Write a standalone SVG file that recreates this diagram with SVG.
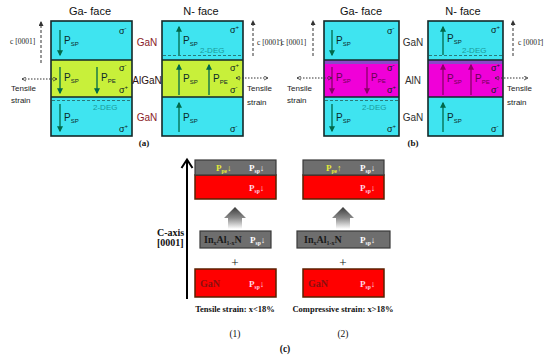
<svg xmlns="http://www.w3.org/2000/svg" width="550" height="361" viewBox="0 0 550 361">
<defs>
<style>
.t{font-family:"Liberation Sans",Arial,sans-serif}
.s{font-family:"Liberation Serif","Times New Roman",serif}
.cy{fill:#3fe4f0}
.yg{fill:#c8f03a}
.mg{fill:#f000d8}
.pb{fill:#8a48c8}
.bd{fill:none;stroke:#142828;stroke-width:1.6}
.dv{stroke:#142828;stroke-width:1.6}
.ttl{font-size:11px;fill:#111}
.pl{font-size:10px;fill:#0c2a2a}
.plm{font-size:10px;fill:#6a0052}
.sub{font-size:6px}
.sg{font-size:9px;fill:#0c2020}
.deg{font-size:8px;fill:#1a9a9a}
.dg{stroke:#2a7a7a;stroke-width:1;stroke-dasharray:3 2}
.ag{stroke:#00694a;stroke-width:1.3;marker-end:url(#mg)}
.am{stroke:#8a0068;stroke-width:1.3;marker-end:url(#mm)}
.ca{stroke:#333;stroke-width:1;stroke-dasharray:3 2;marker-end:url(#mc)}
.ts{stroke:#333;stroke-width:1;stroke-dasharray:1.5 1.5;marker-start:url(#mo);marker-end:url(#mo)}
.cl{font-size:7.5px;fill:#222}
.tl{font-size:8px;fill:#222}
.lab{font-size:10px}
.gray{fill:#6e6e6e;stroke:#3a3a3a;stroke-width:1.2}
.red{fill:#ff0000;stroke:#5a2000;stroke-width:1.5}
.cb{font-weight:bold}
.yel{fill:#e4ec3a}
.wh{fill:#ffffff}
.pk{fill:#ffd4e4}
.ps{font-size:9px;font-weight:bold}
.ps2{font-size:5.5px}
</style>
<marker id="mg" viewBox="0 0 10 10" refX="8" refY="5" markerWidth="6" markerHeight="6" markerUnits="userSpaceOnUse" orient="auto"><path d="M0,0 L10,5 L0,10 z" fill="#00694a"/></marker>
<marker id="mm" viewBox="0 0 10 10" refX="8" refY="5" markerWidth="6" markerHeight="6" markerUnits="userSpaceOnUse" orient="auto"><path d="M0,0 L10,5 L0,10 z" fill="#8a0068"/></marker>
<marker id="mc" viewBox="0 0 10 10" refX="8" refY="5" markerWidth="5" markerHeight="5" markerUnits="userSpaceOnUse" orient="auto"><path d="M0,0 L10,5 L0,10 z" fill="#333"/></marker>
<marker id="mo" viewBox="0 0 10 10" refX="9" refY="5" markerWidth="5" markerHeight="5" markerUnits="userSpaceOnUse" orient="auto-start-reverse"><path d="M1,1 L9,5 L1,9" fill="none" stroke="#333" stroke-width="1.6"/></marker>
<linearGradient id="gr" x1="0" y1="0" x2="0" y2="1"><stop offset="0" stop-color="#3a3a3a"/><stop offset="0.5" stop-color="#8a8a8a"/><stop offset="1" stop-color="#ffffff"/></linearGradient>
</defs>
<rect width="550" height="361" fill="#ffffff"/>

<!-- Panel (a) Ga-face -->
<g id="a-ga-face">
<text x="90" y="15" text-anchor="middle" class="t ttl">Ga- face</text>
<rect x="51" y="21" width="81" height="39" class="cy"/>
<rect x="51" y="60" width="81" height="37" class="yg"/>
<rect x="51" y="97" width="81" height="39" class="cy"/>
<line x1="51" y1="60" x2="132" y2="60" class="dv"/>
<line x1="51" y1="97" x2="132" y2="97" class="dv"/>
<line x1="52" y1="100.5" x2="131" y2="100.5" class="dg"/>
<rect x="51" y="21" width="81" height="115" class="bd"/>
<line x1="60" y1="30" x2="60" y2="55" class="ag"/>
<text x="64" y="44" class="t pl">P<tspan class="sub" dy="2">SP</tspan></text>
<text x="119" y="34" class="t sg">σ<tspan class="sub" dy="-4">-</tspan></text>
<line x1="60" y1="67" x2="60" y2="93" class="ag"/>
<text x="64" y="81" class="t pl">P<tspan class="sub" dy="2">SP</tspan></text>
<line x1="97" y1="67" x2="97" y2="93" class="ag"/>
<text x="101" y="81" class="t pl">P<tspan class="sub" dy="2">PE</tspan></text>
<text x="119" y="71" class="t sg">σ<tspan class="sub" dy="-4">-</tspan></text>
<text x="119" y="93" class="t sg">σ<tspan class="sub" dy="-4">+</tspan></text>
<text x="93" y="110" class="t deg">2-DEG</text>
<line x1="60" y1="104" x2="60" y2="131" class="ag"/>
<text x="64" y="121" class="t pl">P<tspan class="sub" dy="2">SP</tspan></text>
<text x="119" y="132" class="t sg">σ<tspan class="sub" dy="-4">+</tspan></text>
</g>

<!-- Panel (a) labels -->
<g id="a-labels">
<text x="147" y="46" text-anchor="middle" class="t lab" fill="#8a1c28">GaN</text>
<text x="147" y="84" text-anchor="middle" class="t lab" fill="#2a1010">AlGaN</text>
<text x="147" y="121" text-anchor="middle" class="t lab" fill="#8a1c28">GaN</text>
<text x="144" y="146" text-anchor="middle" class="s cb" font-size="9" fill="#111">(a)</text>
</g>

<!-- Panel (a) N-face -->
<g id="a-n-face">
<text x="201" y="15" text-anchor="middle" class="t ttl">N- face</text>
<rect x="162" y="21" width="81" height="39" class="cy"/>
<rect x="162" y="60" width="81" height="37" class="yg"/>
<rect x="162" y="97" width="81" height="39" class="cy"/>
<line x1="162" y1="60" x2="243" y2="60" class="dv"/>
<line x1="162" y1="97" x2="243" y2="97" class="dv"/>
<line x1="163" y1="55.5" x2="242" y2="55.5" class="dg"/>
<rect x="162" y="21" width="81" height="115" class="bd"/>
<text x="230" y="33" class="t sg">σ<tspan class="sub" dy="-4">+</tspan></text>
<line x1="179" y1="55" x2="179" y2="27" class="ag"/>
<text x="183" y="44" class="t pl">P<tspan class="sub" dy="2">SP</tspan></text>
<text x="200" y="53" class="t deg">2-DEG</text>
<line x1="179" y1="95" x2="179" y2="65" class="ag"/>
<text x="183" y="82" class="t pl">P<tspan class="sub" dy="2">SP</tspan></text>
<line x1="209" y1="95" x2="209" y2="65" class="ag"/>
<text x="213" y="82" class="t pl">P<tspan class="sub" dy="2">PE</tspan></text>
<text x="230" y="71" class="t sg">σ<tspan class="sub" dy="-4">+</tspan></text>
<text x="230" y="93" class="t sg">σ<tspan class="sub" dy="-4">-</tspan></text>
<line x1="179" y1="132" x2="179" y2="103" class="ag"/>
<text x="183" y="121" class="t pl">P<tspan class="sub" dy="2">SP</tspan></text>
<text x="230" y="132" class="t sg">σ<tspan class="sub" dy="-4">-</tspan></text>
</g>

<!-- Panel (b) Ga-face -->
<g id="b-ga-face">
<text x="361" y="15" text-anchor="middle" class="t ttl">Ga- face</text>
<rect x="324" y="21" width="75" height="39" class="cy"/>
<rect x="324" y="60" width="75" height="37" class="mg"/>
<rect x="324" y="60" width="75" height="4" class="pb"/>
<rect x="324" y="97" width="75" height="39" class="cy"/>
<line x1="324" y1="60" x2="399" y2="60" class="dv"/>
<line x1="324" y1="97" x2="399" y2="97" class="dv"/>
<line x1="325" y1="100.5" x2="398" y2="100.5" class="dg"/>
<rect x="324" y="21" width="75" height="115" class="bd"/>
<line x1="332" y1="30" x2="332" y2="55" class="ag"/>
<text x="336" y="44" class="t pl">P<tspan class="sub" dy="2">SP</tspan></text>
<text x="387" y="34" class="t sg">σ<tspan class="sub" dy="-4">-</tspan></text>
<line x1="332" y1="67" x2="332" y2="93" class="am"/>
<text x="336" y="81" class="t plm">P<tspan class="sub" dy="2">SP</tspan></text>
<line x1="367" y1="67" x2="367" y2="93" class="am"/>
<text x="371" y="81" class="t plm">P<tspan class="sub" dy="2">PE</tspan></text>
<text x="387" y="71" class="t sg">σ<tspan class="sub" dy="-4">-</tspan></text>
<text x="387" y="93" class="t sg">σ<tspan class="sub" dy="-4">+</tspan></text>
<text x="362" y="110" class="t deg">2-DEG</text>
<line x1="332" y1="104" x2="332" y2="131" class="ag"/>
<text x="336" y="121" class="t pl">P<tspan class="sub" dy="2">SP</tspan></text>
<text x="387" y="132" class="t sg">σ<tspan class="sub" dy="-4">+</tspan></text>
</g>

<!-- Panel (b) labels -->
<g id="b-labels">
<text x="413" y="46" text-anchor="middle" class="t lab" fill="#303030">GaN</text>
<text x="413" y="84" text-anchor="middle" class="t lab" fill="#303030">AlN</text>
<text x="413" y="121" text-anchor="middle" class="t lab" fill="#303030">GaN</text>
<text x="413" y="146" text-anchor="middle" class="s cb" font-size="9" fill="#111">(b)</text>
</g>

<!-- Panel (b) N-face -->
<g id="b-n-face">
<text x="463" y="15" text-anchor="middle" class="t ttl">N- face</text>
<rect x="428" y="21" width="75" height="39" class="cy"/>
<rect x="428" y="60" width="75" height="37" class="mg"/>
<rect x="428" y="60" width="75" height="4" class="pb"/>
<rect x="428" y="97" width="75" height="39" class="cy"/>
<line x1="428" y1="60" x2="503" y2="60" class="dv"/>
<line x1="428" y1="97" x2="503" y2="97" class="dv"/>
<line x1="429" y1="55.5" x2="502" y2="55.5" class="dg"/>
<rect x="428" y="21" width="75" height="115" class="bd"/>
<text x="491" y="33" class="t sg">σ<tspan class="sub" dy="-4">+</tspan></text>
<line x1="443" y1="55" x2="443" y2="27" class="ag"/>
<text x="447" y="42" class="t pl">P<tspan class="sub" dy="2">SP</tspan></text>
<text x="462" y="53" class="t deg">2-DEG</text>
<line x1="443" y1="95" x2="443" y2="65" class="am"/>
<text x="447" y="82" class="t plm">P<tspan class="sub" dy="2">SP</tspan></text>
<line x1="471" y1="95" x2="471" y2="65" class="am"/>
<text x="475" y="82" class="t plm">P<tspan class="sub" dy="2">PE</tspan></text>
<text x="491" y="71" class="t sg">σ<tspan class="sub" dy="-4">+</tspan></text>
<text x="491" y="93" class="t sg">σ<tspan class="sub" dy="-4">-</tspan></text>
<line x1="443" y1="132" x2="443" y2="103" class="ag"/>
<text x="447" y="121" class="t pl">P<tspan class="sub" dy="2">SP</tspan></text>
<text x="491" y="132" class="t sg">σ<tspan class="sub" dy="-4">-</tspan></text>
</g>

<!-- axis and strain annotations -->
<g id="annotations">
<text x="10" y="44" class="s cl">c [0001]</text>
<text x="257" y="45" class="s cl">c [0001̄]</text>
<text x="281" y="45" class="s cl">c [0001]</text>
<text x="518" y="45" class="s cl">c [0001̄]</text>
<text x="11" y="91" class="t tl">Tensile</text>
<text x="11" y="103" class="t tl">strain</text>
<text x="247" y="91" class="t tl">Tensile</text>
<text x="247" y="105" class="t tl">strain</text>
<text x="287" y="91" class="t tl">Tensile</text>
<text x="287" y="103" class="t tl">strain</text>
<text x="507" y="91" class="t tl">Tensile</text>
<text x="507" y="105" class="t tl">strain</text>
</g>

<!-- connectors -->
<g id="connectors">
<line x1="41" y1="63" x2="41" y2="22" class="ca"/>
<line x1="253" y1="56" x2="253" y2="21" class="ca"/>
<line x1="313" y1="56" x2="313" y2="21" class="ca"/>
<line x1="513" y1="56" x2="513" y2="21" class="ca"/>
<line x1="22" y1="79" x2="57" y2="79" class="ts"/>
<line x1="236" y1="78" x2="268" y2="78" class="ts"/>
<line x1="297" y1="78" x2="332" y2="78" class="ts"/>
<line x1="495" y1="78" x2="528" y2="78" class="ts"/>
<line x1="187" y1="299" x2="187" y2="161" stroke="#000" stroke-width="2"/>
<polyline points="181.5,168 187,159.5 192.5,168" fill="none" stroke="#000" stroke-width="2"/>
<polygon points="235,207 246,218 242,218 242,229 228,229 228,218 224,218" fill="url(#gr)"/>
<polygon points="343,207 354,218 350,218 350,229 336,229 336,218 332,218" fill="url(#gr)"/>
</g>

<!-- Panel (c) -->
<g id="c-axis-label">
<text x="157" y="236" class="s cb" font-size="10" fill="#111">C-axis</text>
<text x="157" y="246" class="s cb" font-size="10" fill="#111">[0001]</text>
</g>

<g id="c1-result">
<rect x="195" y="175" width="81" height="24" class="red"/>
<rect x="195" y="160" width="81" height="15" class="gray"/>
<text x="216" y="171" class="s ps yel">P<tspan class="ps2" dy="2">pe</tspan><tspan dy="-2">↓</tspan></text>
<text x="249" y="171" class="s ps wh">P<tspan class="ps2" dy="2">sp</tspan><tspan dy="-2">↓</tspan></text>
<text x="249" y="191" class="s ps pk">P<tspan class="ps2" dy="2">sp</tspan><tspan dy="-2">↓</tspan></text>
</g>
<g id="c1-inaln">
<rect x="200" y="231" width="71" height="17" class="gray"/>
<text x="204" y="243" class="s cb" font-size="10" fill="#1a1a1a">In<tspan font-size="6" dy="2">x</tspan><tspan dy="-2">Al</tspan><tspan font-size="6" dy="2">1-x</tspan><tspan dy="-2">N</tspan></text>
<text x="250" y="243" class="s ps wh">P<tspan class="ps2" dy="2">sp</tspan><tspan dy="-2">↓</tspan></text>
</g>
<g id="c1-gan">
<rect x="195" y="269" width="81" height="28" class="red"/>
<text x="200" y="287" class="s cb" font-size="10" fill="#8b1010">GaN</text>
<text x="249" y="287" class="s ps pk">P<tspan class="ps2" dy="2">sp</tspan><tspan dy="-2">↓</tspan></text>
</g>
<text x="235" y="267" text-anchor="middle" class="s" font-size="13" fill="#111">+</text>
<text x="235" y="312" text-anchor="middle" class="s cb" font-size="8.5" fill="#111">Tensile strain: x&lt;18%</text>
<text x="235" y="337" text-anchor="middle" class="s" font-size="9.5" fill="#111">(1)</text>

<g id="c2-result">
<rect x="303" y="175" width="81" height="24" class="red"/>
<rect x="303" y="160" width="81" height="15" class="gray"/>
<text x="326" y="171" class="s ps yel">P<tspan class="ps2" dy="2">pe</tspan><tspan dy="-2">↑</tspan></text>
<text x="360" y="171" class="s ps wh">P<tspan class="ps2" dy="2">sp</tspan><tspan dy="-2">↓</tspan></text>
<text x="360" y="191" class="s ps pk">P<tspan class="ps2" dy="2">sp</tspan><tspan dy="-2">↓</tspan></text>
</g>
<g id="c2-inaln">
<rect x="297" y="231" width="93" height="17" class="gray"/>
<text x="304" y="243" class="s cb" font-size="10" fill="#1a1a1a">In<tspan font-size="6" dy="2">x</tspan><tspan dy="-2">Al</tspan><tspan font-size="6" dy="2">1-x</tspan><tspan dy="-2">N</tspan></text>
<text x="360" y="243" class="s ps wh">P<tspan class="ps2" dy="2">sp</tspan><tspan dy="-2">↓</tspan></text>
</g>
<g id="c2-gan">
<rect x="303" y="269" width="81" height="28" class="red"/>
<text x="308" y="287" class="s cb" font-size="10" fill="#8b1010">GaN</text>
<text x="360" y="287" class="s ps pk">P<tspan class="ps2" dy="2">sp</tspan><tspan dy="-2">↓</tspan></text>
</g>
<text x="343" y="267" text-anchor="middle" class="s" font-size="13" fill="#111">+</text>
<text x="343" y="312" text-anchor="middle" class="s cb" font-size="8.5" fill="#111">Compressive strain: x&gt;18%</text>
<text x="343" y="337" text-anchor="middle" class="s" font-size="9.5" fill="#111">(2)</text>
<text x="285" y="352" text-anchor="middle" class="s cb" font-size="9.5" fill="#111">(c)</text>
</svg>
